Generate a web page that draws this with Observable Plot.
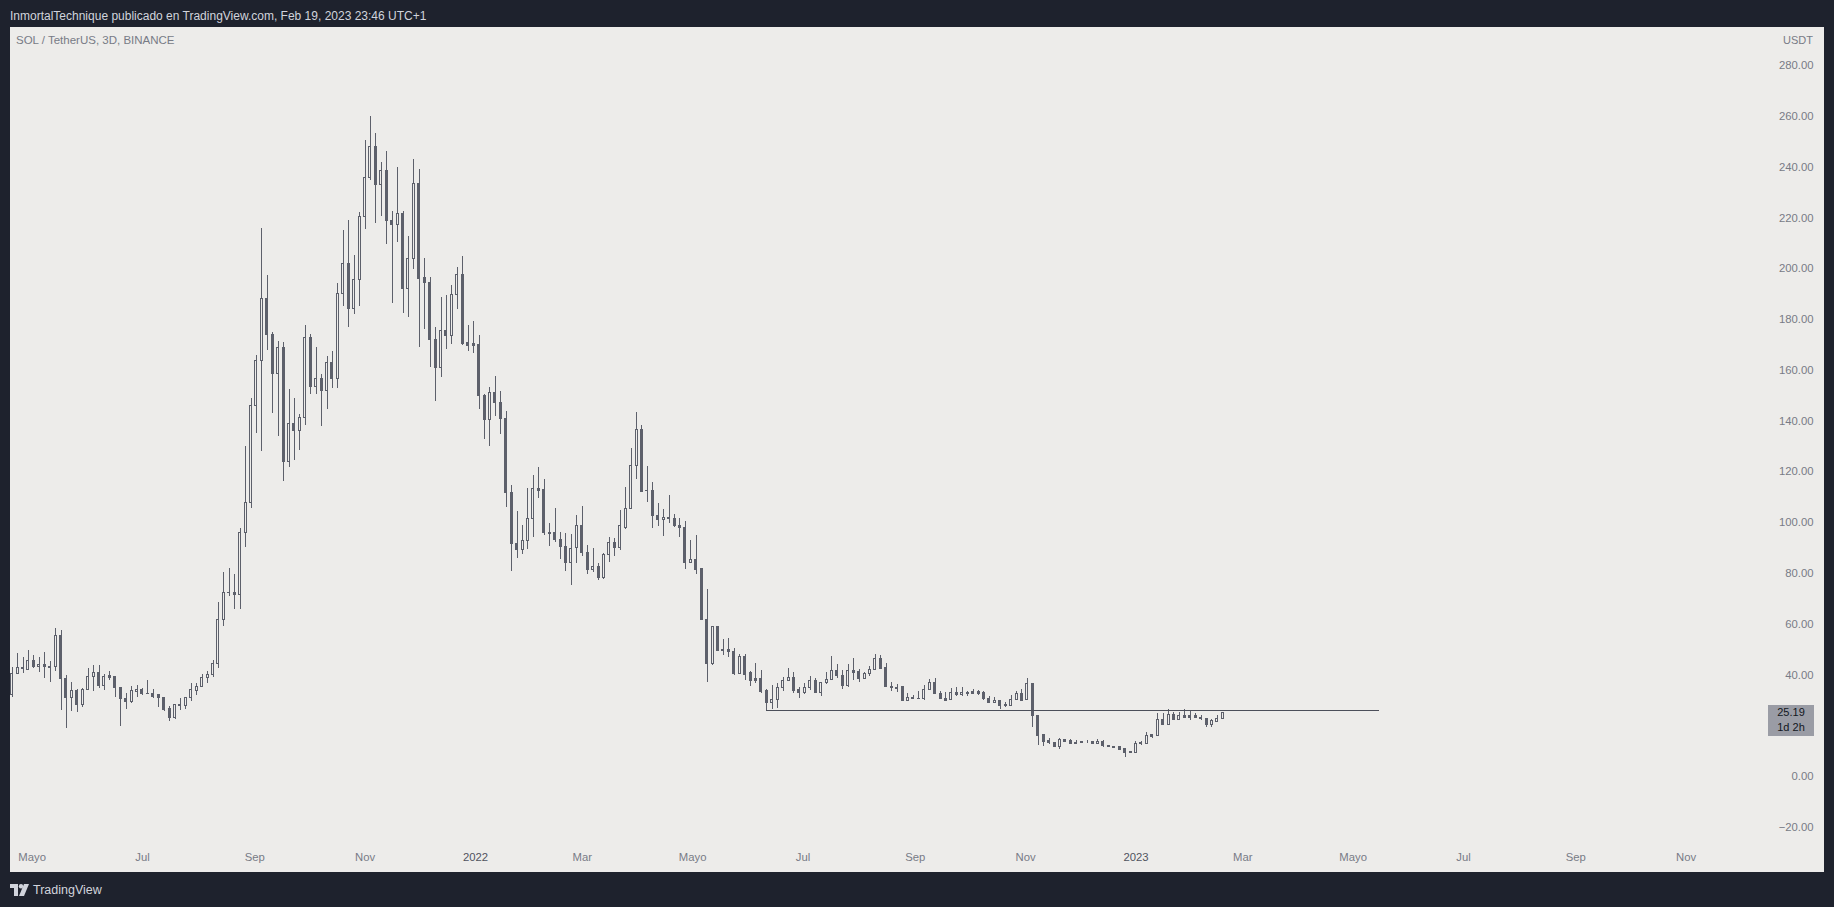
<!DOCTYPE html>
<html>
<head>
<meta charset="utf-8">
<script src="https://cdn.jsdelivr.net/npm/d3@7"></script>
<script src="https://cdn.jsdelivr.net/npm/@observablehq/plot@0.6"></script>
<style>
  html, body { margin: 0; padding: 0; }
  body { width: 1834px; height: 907px; background: #1e222d; position: relative; overflow: hidden;
         font-family: 'Liberation Sans', Arial, sans-serif; }
  #hdr { position: absolute; left: 10px; top: 9px; color: #d1d4dc; font-size: 12px; white-space: nowrap; }
  #panel { position: absolute; left: 10px; top: 27px; width: 1814px; height: 845px; background: #edecea; }
  #sym { position: absolute; left: 6px; top: 7px; color: #787b86; font-size: 11.5px; white-space: nowrap; }
  #unit { position: absolute; right: 11px; top: 7px; color: #787b86; font-size: 11px; }
  #plabel { position: absolute; left: 1758px; width: 46px; height: 31px; background: #9a9ca5; color: #131722;
            font-size: 11px; text-align: center; }
  #plabel div { height: 15px; line-height: 15px; }
  #footer { position: absolute; left: 10px; top: 883px; color: #d1d4dc; font-size: 12.5px; display: flex; align-items: center; gap: 4px; }
</style>
</head>
<body>
<div id="hdr">InmortalTechnique publicado en TradingView.com, Feb 19, 2023 23:46 UTC+1</div>
<div id="panel">
  <div id="sym">SOL / TetherUS, 3D, BINANCE</div>
  <div id="unit">USDT</div>
</div>
<div id="footer">
  <svg width="19" height="12" viewBox="0 0 19 12"><path d="M0 0h8v12H4V4H0z" fill="#d1d4dc"/><circle cx="11" cy="2.2" r="2.2" fill="#d1d4dc"/><path d="M14 0h5l-5 12H9z" fill="#d1d4dc"/></svg>
  <span>TradingView</span>
</div>
<script>
// ---- data (SOL/USDT, 3-day candles, Binance) ----
const firstCandle = "2021-04-20";
const candleDays = 3;
const opens = [31.9,40.4,42.9,42.1,45.6,43.1,44.0,43.3,43.1,55.5,38.3,30.8,33.5,28.0,33.9,39.3,40.8,35.6,39.4,39.0,
34.9,30.7,29.3,33.2,33.9,32.6,32.6,31.9,30.9,26.4,23.0,28.2,27.6,30.8,33.6,35.1,38.7,39.8,44.4,61.7,
72.3,72.3,71.5,96.0,107.8,146.0,163.7,187.9,174.0,158.4,168.9,123.8,139.0,136.0,141.1,172.9,153.4,156.7,151.9,162.9,
156.7,190.0,202.0,184.2,195.6,220.4,235.7,247.9,233.0,238.4,218.7,217.1,221.6,191.9,203.9,233.4,196.4,194.3,172.0,160.8,
175.3,173.4,189.7,197.7,170.6,170.2,170.1,150.0,140.5,151.1,147.0,140.9,111.6,91.6,89.3,92.7,101.4,113.3,113.0,95.8,
95.9,93.0,90.5,84.0,89.9,98.5,88.0,81.3,82.6,78.1,87.3,92.0,89.9,98.0,105.4,122.4,136.5,112.5,112.4,102.5,
101.0,101.9,101.6,98.6,97.9,84.0,85.3,81.6,61.8,44.2,58.7,50.0,50.0,49.2,40.4,46.9,40.6,38.5,38.5,33.5,
28.9,30.2,34.9,37.5,38.9,33.9,32.8,34.9,37.5,32.8,36.9,38.1,41.7,39.7,35.6,41.7,41.3,38.4,40.2,42.0,
46.3,42.8,35.4,34.9,35.2,29.7,31.0,30.6,30.4,34.1,36.9,32.6,30.6,30.2,33.0,31.9,33.0,33.3,33.2,32.8,
30.6,28.9,29.9,27.6,27.7,30.2,32.6,30.2,36.5,24.0,16.2,13.9,13.2,11.6,14.3,13.9,13.3,13.2,13.3,13.4,
12.7,13.7,12.0,11.7,11.5,10.9,9.2,9.4,12.8,12.9,16.2,15.8,22.4,20.1,24.4,22.1,23.9,23.9,24.0,23.2,
22.6,20.2,21.5,22.7];
const highs = [43.0,48.3,46.7,49.6,47.7,46.7,48.7,45.3,58.3,57.5,39.8,37.2,34.3,34.5,42.4,43.7,43.7,40.2,41.5,39.4,
35.0,32.6,35.4,35.8,34.8,37.8,34.3,32.1,31.2,27.6,28.3,30.7,31.3,36.5,36.5,40.0,41.4,45.7,68.7,80.4,
82.1,79.4,97.7,129.9,148.9,165.9,215.8,197.4,174.7,171.3,170.9,152.3,148.9,142.6,177.7,174.0,169.0,158.2,165.5,167.2,
194.1,215.0,219.1,205.2,222.2,250.5,260.1,253.2,241.8,246.2,222.5,239.9,222.5,212.7,242.9,239.1,203.9,196.4,176.7,188.8,
189.4,193.4,200.5,204.8,177.6,179.2,173.7,150.6,153.3,157.7,151.6,143.8,114.6,104.4,98.9,113.3,118.6,121.8,117.0,99.5,
105.7,96.0,95.6,95.2,102.8,106.3,91.0,89.8,83.9,87.8,94.3,93.6,104.8,113.8,129.2,143.4,138.2,122.1,115.8,107.4,
105.2,110.7,103.1,101.6,100.3,93.0,94.9,81.9,73.7,59.0,58.9,54.0,54.4,50.3,48.0,48.0,41.5,44.4,41.7,34.1,
35.8,36.5,38.9,42.4,40.8,34.9,36.5,39.4,38.5,37.0,40.8,47.3,44.1,41.7,44.1,46.5,42.1,41.1,43.3,48.1,
47.7,44.4,36.9,36.1,35.4,32.6,31.9,33.5,35.8,38.1,38.5,33.6,33.0,34.8,34.9,34.9,33.3,34.3,33.7,33.3,
31.5,31.3,30.0,29.3,31.9,33.5,34.3,38.6,36.6,24.1,16.3,14.8,13.3,14.8,14.6,14.4,14.2,13.9,14.2,13.9,
14.5,14.2,12.0,11.7,11.5,10.9,10.0,13.8,13.9,17.5,16.5,24.9,24.9,26.4,25.3,25.3,26.3,25.6,24.7,23.9,
22.7,22.3,24.0,25.3];
const lows = [31.2,40.2,40.4,41.7,42.4,41.1,38.7,37.2,41.5,26.0,19.0,25.6,25.3,27.3,33.7,33.6,34.8,33.9,37.8,31.2,
19.8,26.4,28.9,31.2,31.9,32.4,30.8,27.3,25.6,21.8,22.6,26.0,26.4,29.5,31.9,35.0,36.5,39.1,42.4,59.0,
70.7,65.8,65.8,90.2,105.6,135.0,127.9,167.9,142.8,134.0,116.0,121.8,124.5,128.2,138.1,150.3,150.3,137.7,144.5,153.0,
153.0,185.2,177.0,181.8,185.2,215.4,234.8,217.7,220.7,209.7,186.4,210.4,182.5,180.9,199.6,169.1,176.2,161.2,147.8,157.0,
168.3,170.3,184.1,169.8,167.5,166.7,144.7,132.7,130.1,141.9,134.6,106.1,80.9,85.7,87.3,89.3,94.0,109.6,94.9,90.7,
92.3,85.5,80.7,75.2,84.0,86.8,79.7,80.5,77.2,77.6,84.3,86.8,89.0,97.4,105.2,117.0,111.9,108.1,97.8,98.6,
94.7,99.8,98.0,94.3,81.7,83.8,79.7,61.5,37.2,43.7,49.2,47.7,47.0,39.8,40.1,37.8,35.6,36.5,32.8,25.7,
26.4,26.9,33.5,37.4,32.8,30.8,32.1,33.9,32.7,31.6,36.3,37.9,38.5,34.3,35.2,37.9,36.9,38.3,39.3,41.7,
42.1,35.1,33.5,33.0,29.8,29.6,30.5,30.5,29.9,33.8,32.2,30.3,29.5,30.1,31.6,31.6,31.6,32.3,31.9,29.9,
28.6,28.6,26.4,27.3,27.6,30.0,29.8,30.0,19.4,12.3,11.8,12.6,11.5,10.8,13.6,12.6,12.6,13.1,13.0,12.6,
12.6,11.6,11.5,11.1,10.5,7.6,8.9,9.2,12.4,12.8,15.1,15.8,20.1,20.0,22.0,22.0,22.7,22.1,22.9,22.2,
19.4,19.4,21.4,22.6];
const closes = [40.4,42.8,42.4,45.6,43.3,44.0,43.1,42.7,55.5,38.3,30.8,33.5,28.0,33.9,39.3,40.8,35.6,39.3,38.7,34.8,
30.5,29.3,33.5,33.9,32.3,32.5,31.5,30.8,26.0,23.0,28.2,27.6,30.9,33.9,35.4,38.9,40.0,44.4,61.7,72.3,
72.2,71.5,96.0,107.8,146.0,163.7,187.9,174.0,158.4,168.9,123.8,139.0,136.0,141.1,172.9,153.4,156.7,151.9,162.9,156.7,
190.0,202.0,184.2,195.6,220.4,235.7,247.9,233.0,238.4,218.8,217.1,221.6,191.9,203.9,233.4,195.9,194.3,172.0,160.8,175.3,
173.4,189.7,197.7,170.3,169.5,169.5,149.8,140.5,151.1,147.0,140.9,111.6,91.6,89.3,92.7,101.4,113.3,112.6,95.8,95.7,
93.0,90.3,84.0,89.7,98.5,88.0,81.3,82.6,78.1,87.4,92.0,89.9,98.5,105.4,122.4,136.5,112.2,112.4,102.5,101.0,
101.9,101.4,98.5,97.8,84.0,85.3,81.3,61.6,44.2,58.7,49.4,49.4,49.0,40.4,46.9,40.1,37.8,37.8,33.1,28.9,
30.2,34.9,37.8,38.9,33.5,32.8,34.9,37.5,32.8,36.9,38.1,41.7,39.5,35.6,41.7,40.8,38.4,40.2,42.1,46.3,
42.4,35.2,34.7,34.6,29.9,31.0,30.6,30.7,34.1,36.9,32.3,30.4,29.9,33.0,31.9,33.0,32.3,32.6,32.6,30.4,
28.9,29.9,27.6,28.0,30.2,32.6,29.9,36.5,23.8,15.9,13.5,13.1,11.6,14.2,13.7,12.7,12.7,13.4,13.3,12.7,
13.7,11.9,11.6,11.2,10.6,9.2,9.7,12.9,13.1,15.8,15.5,22.4,20.1,24.4,22.1,23.9,23.2,23.2,23.0,22.5,
20.2,21.7,22.7,25.19];
const levelDates = ["2022-06-11", "2023-05-15"];
const levelPrices = [25.9, 25.9];
// 20.00 is hidden behind the last-price label in the reference
const yTicks = [-20,0,40,60,80,100,120,140,160,180,200,220,240,260,280];
const monthTickDates = ["2021-05-01","2021-07-01","2021-09-01","2021-11-01","2022-03-01","2022-05-01","2022-07-01","2022-09-01","2022-11-01","2023-03-01","2023-05-01","2023-07-01","2023-09-01","2023-11-01"];
const monthTickLabels = ["Mayo","Jul","Sep","Nov","Mar","Mayo","Jul","Sep","Nov","Mar","Mayo","Jul","Sep","Nov"];
const yearTickDates = ["2022-01-01","2023-01-01"];
const yearTickLabels = ["2022","2023"];
const lastPriceLabel = "25.19";
const countdownLabel = "1d 2h";

// ---- build ----
const DAY = 864e5;
const t0 = new Date(firstCandle + "T00:00:00Z").getTime();
const candles = opens.map((o, i) => ({
  date: new Date(t0 + i * candleDays * DAY),
  open: o, high: highs[i], low: lows[i], close: closes[i]
}));
const levelLine = levelDates.map((d, i) => ({date: new Date(d + "T00:00:00Z"), price: levelPrices[i]}));
const monthTicks = monthTickDates.map(d => new Date(d + "T00:00:00Z"));
const yearTicks = yearTickDates.map(d => new Date(d + "T00:00:00Z"));
const lookup = (ticks, labels) => d => labels[ticks.findIndex(t => t.getTime() === d.getTime())];

const BG = "#edecea", INK = "#5d606b";
const chart = Plot.plot({
  width: 1814, height: 845,
  marginLeft: 0, marginRight: 59, marginTop: 0, marginBottom: 27,
  style: {background: "transparent", color: "#787b86", fontFamily: "'Liberation Sans', Arial, sans-serif", fontSize: "11.3px", overflow: "visible"},
  x: {type: "utc", domain: [new Date(t0 - 0.94 * DAY), new Date(t0 + 968.9 * DAY)]},
  y: {domain: [-27.18, 295.0]},
  marks: [
    Plot.ruleX(candles, {x: "date", y1: "low", y2: "high", stroke: INK, strokeWidth: 1, shapeRendering: "crispEdges", clip: true}),
    Plot.rect(candles, {filter: d => d.close >= d.open, x1: "date", x2: "date", y1: "open", y2: "close",
      insetLeft: -1, insetRight: -1, fill: BG, stroke: INK, strokeWidth: 1, shapeRendering: "crispEdges", clip: true}),
    Plot.rect(candles, {filter: d => d.close < d.open, x1: "date", x2: "date", y1: "open", y2: "close",
      insetLeft: -1, insetRight: -1, fill: INK, stroke: INK, strokeWidth: 1, shapeRendering: "crispEdges", clip: true}),
    Plot.line(levelLine, {x: "date", y: "price", stroke: "#4c4f5a", strokeWidth: 1, shapeRendering: "crispEdges"}),
    Plot.axisY(yTicks, {anchor: "right", tickSize: 0, tickPadding: 48, textAnchor: "end",
      tickFormat: d => (d < 0 ? "\u2212" : "") + Math.abs(d).toFixed(2)}),
    Plot.axisX(monthTicks, {anchor: "bottom", tickSize: 0, tickPadding: 7, tickFormat: lookup(monthTicks, monthTickLabels)}),
    Plot.axisX(yearTicks, {anchor: "bottom", tickSize: 0, tickPadding: 7, fill: "#50535e", tickFormat: lookup(yearTicks, yearTickLabels)})
  ]
});
const panel = document.getElementById("panel");
panel.appendChild(chart);
chart.style.position = "absolute";
chart.style.left = "0px";
chart.style.top = "0px";

// last price label, positioned from the y scale
const yPix = chart.scale("y").apply(closes[closes.length - 1]);
const lab = document.createElement("div");
lab.id = "plabel";
lab.style.top = (yPix - 7.5) + "px";
const l1 = document.createElement("div"); l1.textContent = lastPriceLabel;
const l2 = document.createElement("div"); l2.textContent = countdownLabel;
lab.appendChild(l1); lab.appendChild(l2);
panel.appendChild(lab);
</script>
</body>
</html>
